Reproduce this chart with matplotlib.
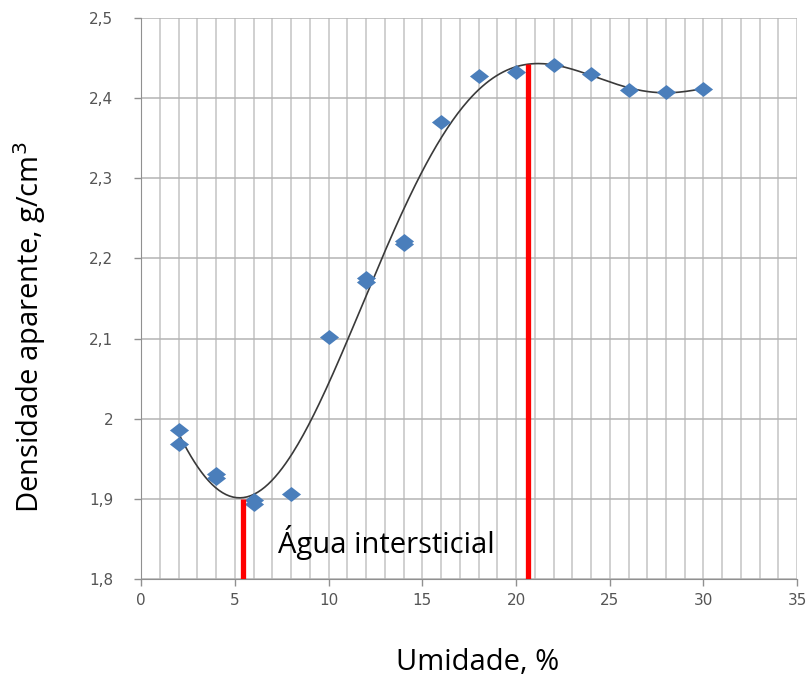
import matplotlib.pyplot as plt
import numpy as np

# Dados: umidade (%) e densidade aparente (g/cm3)
umidade = [2, 2, 4, 4, 6, 6, 8, 10, 12, 12, 14, 14, 16, 18, 20, 22, 24, 26, 28, 30]
densidade = [1.986, 1.969, 1.931, 1.926, 1.898, 1.893, 1.906, 2.102, 2.175, 2.171,
             2.222, 2.218, 2.370, 2.428, 2.433, 2.441, 2.430, 2.410, 2.408, 2.412]

# Linhas vermelhas (limites)
limites_x = [5.45, 20.65]
limites_y = [1.90, 2.442]

y_ticks = [1.8, 1.9, 2.0, 2.1, 2.2, 2.3, 2.4, 2.5]
y_labels = ['1,8', '1,9', '2', '2,1', '2,2', '2,3', '2,4', '2,5']

plt.rcParams['font.family'] = ['Open Sans', 'DejaVu Sans']

fig = plt.figure(figsize=(8.11, 6.79), dpi=100)
ax = fig.add_axes([0.174, 0.1473, 0.809, 0.8262])

# Linha de tendência polinomial
coef = np.polyfit(umidade, densidade, 6)
xs = np.linspace(2, 30, 300)
ax.plot(xs, np.polyval(coef, xs), color='#3a3a3a', lw=1.2, zorder=3)

# losango achatado como no Excel
losango = [(-1, 0), (0, 0.78), (1, 0), (0, -0.78), (-1, 0)]
ax.scatter(umidade, densidade, marker=losango, s=190, color='#4a7ebb', zorder=4, linewidths=0)

for lx, ly in zip(limites_x, limites_y):
    ax.plot([lx, lx], [1.8, ly], color='#ff0000', lw=3.8, zorder=5, solid_capstyle='butt')

ax.text(7.3, 1.845, 'Água intersticial', fontsize=21, va='center', ha='left')

ax.set_xlim(0, 35)
ax.set_ylim(1.8, 2.5)
ax.set_xticks(range(0, 36, 5))
ax.set_xticks(range(0, 36, 1), minor=True)
ax.set_yticks(y_ticks)
ax.set_yticklabels(y_labels)
ax.grid(True, which='both', axis='x', color='#c4c4c4', lw=1.1)
ax.grid(True, which='major', axis='y', color='#b4b4b4', lw=1.1)
ax.set_axisbelow(True)

for s in ['top', 'right']:
    ax.spines[s].set_visible(False)
for s in ['left', 'bottom']:
    ax.spines[s].set_color('#909090')
for lab in ax.get_xticklabels() + ax.get_yticklabels():
    lab.set_family('DejaVu Sans')
ax.tick_params(axis='both', which='major', colors='#909090', labelcolor='#555555',
               labelsize=11, length=5, width=1)
ax.tick_params(axis='y', pad=15)
ax.tick_params(axis='x', pad=5)
ax.tick_params(axis='x', which='minor', length=0)

fig.text(478 / 811, 1 - 670 / 679, 'Umidade, %', fontsize=21, ha='center', va='baseline')
fig.text(30 / 811, 1 - 327 / 679, 'Densidade aparente, g/cm$^3$', fontsize=21,
         rotation=90, ha='center', va='center')

plt.savefig('out.png', dpi=100)
